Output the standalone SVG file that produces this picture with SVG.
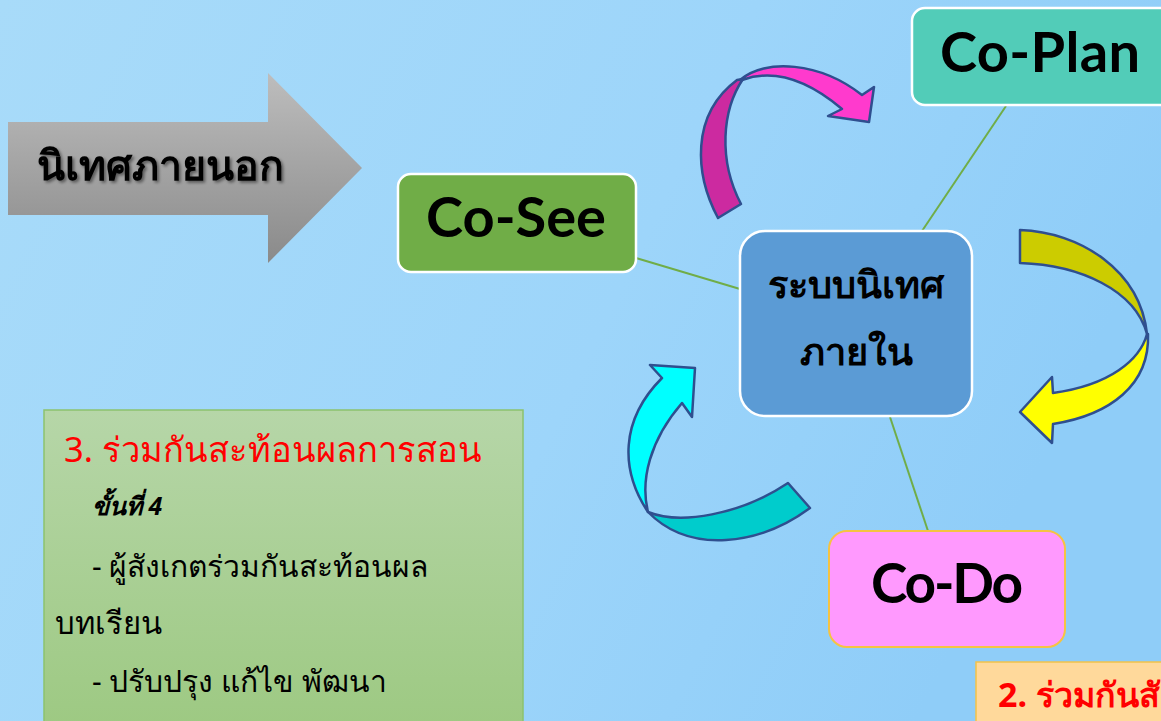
<svg xmlns="http://www.w3.org/2000/svg" width="1161" height="721" viewBox="0 0 1161 721">
<defs>
<linearGradient id="bg" x1="0" y1="0" x2="1" y2="0.3">
<stop offset="0" stop-color="#a8dbf9"/>
<stop offset="0.6" stop-color="#9dd5fa"/>
<stop offset="1" stop-color="#8fcdf8"/>
</linearGradient>
<linearGradient id="gray" x1="0" y1="0" x2="0" y2="1">
<stop offset="0" stop-color="#bdbdbd"/>
<stop offset="1" stop-color="#8a8a8a"/>
</linearGradient>
<linearGradient id="green" x1="0" y1="0" x2="0" y2="1">
<stop offset="0" stop-color="#b6d6a8"/>
<stop offset="1" stop-color="#9dc982"/>
</linearGradient>
<filter id="sh" x="-10%" y="-10%" width="130%" height="140%">
<feDropShadow dx="2" dy="2" stdDeviation="1.5" flood-color="#000" flood-opacity="0.45"/>
</filter>
</defs>
<style>
.lat{font-family:Lato,"Open Sans",sans-serif;font-weight:700;fill:#000}
.th{font-family:"Noto Sans","DejaVu Sans",sans-serif}
.node{stroke:#ffffff;stroke-width:2.5}
.conn{stroke:#70ad47;stroke-width:2;fill:none}
.arr{stroke:#2f4f8f;stroke-width:2.5;stroke-linejoin:round}
</style>
<rect width="1161" height="721" fill="url(#bg)"/>

<g id="connectors">
<line class="conn" x1="636" y1="258" x2="740" y2="289"/>
<line class="conn" x1="1006" y1="106" x2="922" y2="231"/>
<line class="conn" x1="928" y1="531" x2="890" y2="417"/>
</g>

<g id="outside-arrow">
<path d="M8 122 H268 V73 L362 168 L268 263 V215 H8 Z" fill="url(#gray)"/>
<text class="th" x="160" y="180" font-size="41" font-weight="700" text-anchor="middle" filter="url(#sh)">นิเทศภายนอก</text>
</g>

<g id="co-see">
<rect class="node" x="398" y="174" width="238" height="98" rx="13" fill="#70ad47"/>
<text class="lat" x="516" y="237" font-size="56" text-anchor="middle">Co-See</text>
</g>

<g id="center">
<rect class="node" x="740" y="231" width="232" height="185" rx="25" fill="#5b9bd5"/>
<text class="th" x="856" y="298" font-size="38" font-weight="700" text-anchor="middle">ระบบนิเทศ</text>
<text class="th" x="856" y="365" font-size="38" font-weight="700" text-anchor="middle">ภายใน</text>
</g>

<g id="co-plan">
<rect class="node" x="912" y="8" width="262" height="97" rx="13" fill="#52ccb8"/>
<text class="lat" x="940" y="72" font-size="56" textLength="200">Co-Plan</text>
</g>

<g id="co-do">
<rect x="829" y="531" width="236" height="116" rx="18" fill="#ff99fe" stroke="#f5c342" stroke-width="2"/>
<text class="lat" x="947" y="603" font-size="55" text-anchor="middle" textLength="152">Co-Do</text>
</g>

<g id="arrow-magenta">
<path class="arr" d="M718 218 C695 175 690 115 737 80 L743 79 C722 110 718 160 741 204 Z" fill="#cc2aa0"/>
<path class="arr" d="M740 80 C765 58 820 62 862 95 L874 87 L869 122 L828 116 L842 109 C810 82 775 68 742 80 Z" fill="#ff3acd"/>
</g>

<g id="arrow-yellow">
<path class="arr" d="M1020 230 C1080 232 1140 270 1147 334 C1135 290 1080 265 1020 263 Z" fill="#cccc00"/>
<path class="arr" d="M1147 334 C1140 360 1110 385 1053 393 L1052 377 L1020 412 L1052 443 L1053 424 C1110 415 1150 385 1148 334 Z" fill="#ffff00"/>
</g>

<g id="arrow-cyan">
<path class="arr" d="M648 512 C620 470 620 420 662 378 L650 365 L695 368 L692 417 L682 403 C650 440 640 480 648 512 Z" fill="#00ffff"/>
<path class="arr" d="M648 512 C680 525 740 515 788 483 L810 508 C760 545 690 555 648 512 Z" fill="#00cccc"/>
</g>

<g id="step3-box">
<rect x="44" y="410" width="479" height="320" fill="url(#green)" stroke="#8cc26e" stroke-width="1.5"/>
<text class="th" x="64" y="462" font-size="34.5" fill="#ff0000">3. ร่วมกันสะท้อนผลการสอน</text>
<text class="th" x="92" y="515" font-size="25" font-weight="700" font-style="italic">ขั้นที่ 4</text>
<text class="th" x="92" y="577" font-size="30">- ผู้สังเกตร่วมกันสะท้อนผล</text>
<text class="th" x="55" y="634" font-size="31">บทเรียน</text>
<text class="th" x="92" y="692" font-size="30">- ปรับปรุง แก้ไข พัฒนา</text>
</g>

<g id="step2-box">
<rect x="976" y="662" width="200" height="70" fill="#ffd99b" stroke="#f2c24b" stroke-width="1.5"/>
<text class="th" x="998" y="707" font-size="34" font-weight="700" fill="#ff0000">2. ร่วมกันสั</text>
</g>
</svg>
